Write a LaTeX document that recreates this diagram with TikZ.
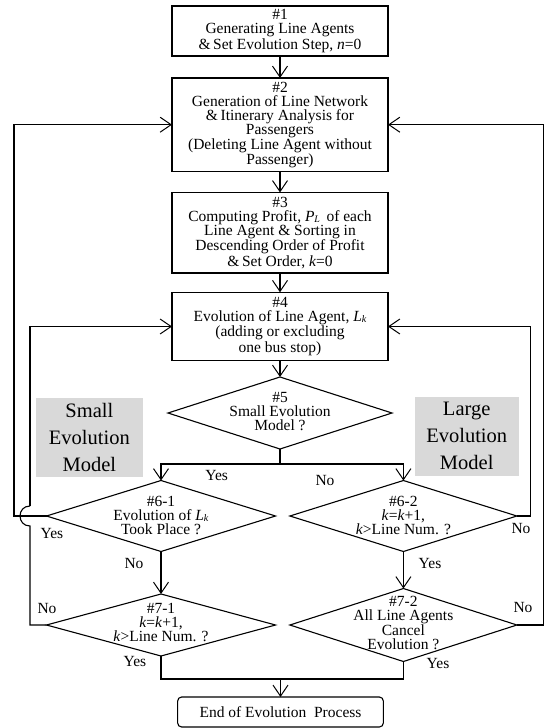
\documentclass[tikz,border=0pt]{standalone}
\usepackage{fontspec}
\setmainfont{Liberation Serif}
\usetikzlibrary{shapes.geometric,arrows.meta}
\newcommand{\sbs}[1]{\raisebox{-0.15ex}{\fontsize{10}{10}\selectfont\textit{#1}}}
\begin{document}
\begin{tikzpicture}[x=1pt,y=-1pt,
  line width=1.1pt,
  >={Straight Barb[length=11pt,width=15pt,line width=1pt]},
  every node/.style={inner sep=0pt,outer sep=0pt,font=\fontsize{15.5}{14}\selectfont},
  boxnode/.style={draw,rectangle,minimum width=216pt,align=center},
  dia/.style={draw,diamond,minimum width=226pt},
  txt/.style={align=center},
  lab/.style={},
  grey/.style={fill=black!15,align=center,font=\fontsize{20.5}{27}\selectfont}]
\useasboundingbox (0,0) rectangle (544,728);

% boxes
\node[boxnode,minimum height=50pt] (b1) at (280,31) {\#1\\Generating Line Agents\\\&\,Set Evolution Step, \textit{n}=0};
\node[boxnode,minimum height=93.5pt] (b2) at (280,124.7) {\#2\\Generation of Line Network\\\&\,Itinerary Analysis for\\Passengers\\(Deleting Line Agent without\\Passenger)};
\node[boxnode,minimum height=80.5pt] (b3) at (280,232.7) {\#3\\Computing Profit, \textit{P}\sbs{L}\, of each\\[0.5pt]Line Agent \& Sorting in\\Descending Order of Profit\\\&\,Set Order, \textit{k}=0};
\node[boxnode,minimum height=68.5pt] (b4) at (280,326.5) {\#4\\Evolution of Line Agent, \textit{L}\sbs{k}\\(adding or excluding\\one bus stop)};

% diamonds
\node[dia,minimum width=224pt,minimum height=72pt] (d5) at (280,413) {};
\node[txt] (d5t) at (280,412) {\#5\\Small Evolution\\Model ?};
\node[dia,minimum width=229pt,minimum height=71pt] (d61) at (161,516) {};
\node[txt] (d61t) at (161,515) {\#6-1\\Evolution of \textit{L}\sbs{k}\\Took Place ?};
\node[dia,minimum width=227pt,minimum height=71pt] (d62) at (403.4,516) {};
\node[txt] (d62t) at (403.4,515) {\#6-2\\\textit{k}=\textit{k}+1,\\\textit{k}>Line Num. ?};
\node[dia,minimum width=229pt,minimum height=62pt] (d71) at (161,625) {};
\node[txt] (d71t) at (161,622.5) {\#7-1\\\textit{k}=\textit{k}+1,\\\textit{k}>Line Num. ?};
\node[dia,minimum width=227pt,minimum height=73pt] (d72) at (403.4,625) {};
\node[txt] (d72t) at (403.4,623) {\#7-2\\All Line Agents\\Cancel\\Evolution ?};

% end
\node[draw,rounded corners=4pt,minimum width=205.7pt,minimum height=30pt] (end) at (280.5,712) {End of Evolution\ \ Process};

% grey model labels
\node[grey,minimum width=106.7pt,minimum height=79pt] (sm) at (89.4,437.5) {Small\\Evolution\\Model};
\node[grey,minimum width=104pt,minimum height=79.3pt] (lm) at (466.7,436.3) {Large\\Evolution\\Model};

% main chain
\draw[->] (b1.south) -- (b2.north);
\draw[->] (b2.south) -- (b3.north);
\draw[->] (b3.south) -- (b4.north);
\draw[->] (b4.south) -- (d5.north);

\coordinate (br) at (280,464);
\draw (d5.south) -- (br);
\draw[->] (br) -| (d61.north);
\draw[->] (br) -| (d62.north);
\draw[->] (d61.south) -- (d71.north);
\draw[->] (d62.south) -- (d72.north);

\coordinate (mg) at (280.5,679);
\draw (d71.south) |- (mg);
\draw (d72.south) |- (mg);
\draw[->] (mg) -- (end.north);

% loops
\coordinate (oL) at (14,516);
\draw[->] (d61.west) -- (oL) |- (b2.west);
\coordinate (iL) at (30,625);
\coordinate (iLa) at (30,526);
\coordinate (iLb) at (30,506);
\draw (d71.west) -- (iL) -- (iLa) .. controls (16.7,526) and (16.7,506) .. (iLb);
\draw[->] (iLb) |- (b4.west);
\coordinate (iR) at (530.5,516);
\draw[->] (d62.east) -- (iR) |- (b4.east);
\coordinate (oR) at (543.5,625);
\draw[->] (d72.east) -- (oR) |- (b2.east);

% labels
\node[lab] (l1) at (216.7,475) {Yes};
\node[lab] (l2) at (325,480) {No};
\node[lab] (l3) at (52,533) {Yes};
\node[lab] (l4) at (134,563) {No};
\node[lab] (l5) at (47,608) {No};
\node[lab] (l6) at (135,661) {Yes};
\node[lab] (l7) at (521,528) {No};
\node[lab] (l8) at (430,563) {Yes};
\node[lab] (l9) at (523,607) {No};
\node[lab] (l10) at (438,663) {Yes};
\end{tikzpicture}
\end{document}
